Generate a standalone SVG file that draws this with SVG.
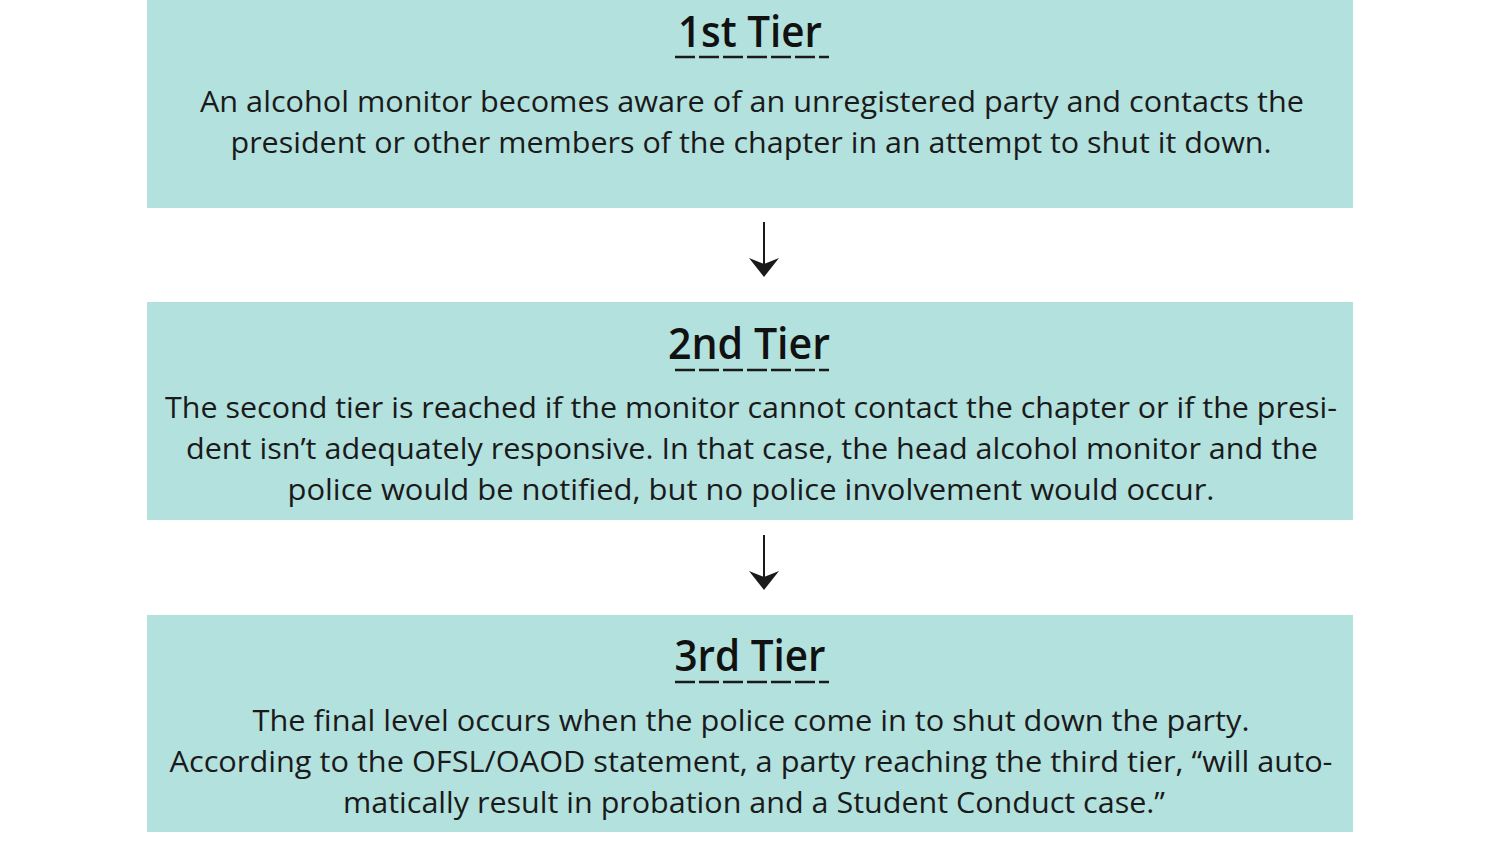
<svg xmlns="http://www.w3.org/2000/svg" width="1500" height="844" viewBox="0 0 1500 844">
<defs>
<style>
.box{fill:#b3e1de;}
.title{font-family:"Open Sans","Noto Sans",sans-serif;font-weight:600;font-size:44px;fill:#111;text-anchor:middle;}
.body{font-family:"Open Sans","Noto Sans",sans-serif;font-size:30px;font-weight:500;fill:#1a1a1a;text-anchor:middle;}
.ul{stroke:#1a1a1a;stroke-width:2.5;stroke-dasharray:20 4;fill:none;}
.conn{stroke:#1a1a1a;stroke-width:2;fill:none;}
.head{fill:#1a1a1a;}
</style>
</defs>
<rect width="1500" height="844" fill="#ffffff"/>
<g id="tier1">
<rect class="box" x="147" y="0" width="1206" height="208"/>
<text class="title" x="750" y="47" textLength="144" lengthAdjust="spacingAndGlyphs">1st Tier</text>
<line class="ul" x1="675" y1="57" x2="829" y2="57"/>
<text class="body" x="752" y="112" textLength="1104" lengthAdjust="spacingAndGlyphs">An alcohol monitor becomes aware of an unregistered party and contacts the</text>
<text class="body" x="751" y="153" textLength="1041" lengthAdjust="spacingAndGlyphs">president or other members of the chapter in an attempt to shut it down.</text>
</g>
<g id="tier2">
<rect class="box" x="147" y="302" width="1206" height="218"/>
<text class="title" x="749" y="359" textLength="162" lengthAdjust="spacingAndGlyphs">2nd Tier</text>
<line class="ul" x1="675" y1="370" x2="829" y2="370"/>
<text class="body" x="751" y="418" textLength="1172" lengthAdjust="spacingAndGlyphs">The second tier is reached if the monitor cannot contact the chapter or if the presi-</text>
<text class="body" x="752" y="459" textLength="1132" lengthAdjust="spacingAndGlyphs">dent isn’t adequately responsive. In that case, the head alcohol monitor and the</text>
<text class="body" x="751" y="500" textLength="927" lengthAdjust="spacingAndGlyphs">police would be notified, but no police involvement would occur.</text>
</g>
<g id="tier3">
<rect class="box" x="147" y="615" width="1206" height="217"/>
<text class="title" x="750" y="671" textLength="151" lengthAdjust="spacingAndGlyphs">3rd Tier</text>
<line class="ul" x1="675" y1="682" x2="829" y2="682"/>
<text class="body" x="751" y="731" textLength="997" lengthAdjust="spacingAndGlyphs">The final level occurs when the police come in to shut down the party.</text>
<text class="body" x="751" y="772" textLength="1163" lengthAdjust="spacingAndGlyphs">According to the OFSL/OAOD statement, a party reaching the third tier, “will auto-</text>
<text class="body" x="754" y="813" textLength="822" lengthAdjust="spacingAndGlyphs">matically result in probation and a Student Conduct case.”</text>
</g>
<g id="connectors">
<line class="conn" x1="764" y1="222" x2="764" y2="272"/>
<path class="head" d="M749,258 L764,264 L779,258 L764,277 Z"/>
<line class="conn" x1="764" y1="535" x2="764" y2="585"/>
<path class="head" d="M749,571 L764,577 L779,571 L764,590 Z"/>
</g>
</svg>
